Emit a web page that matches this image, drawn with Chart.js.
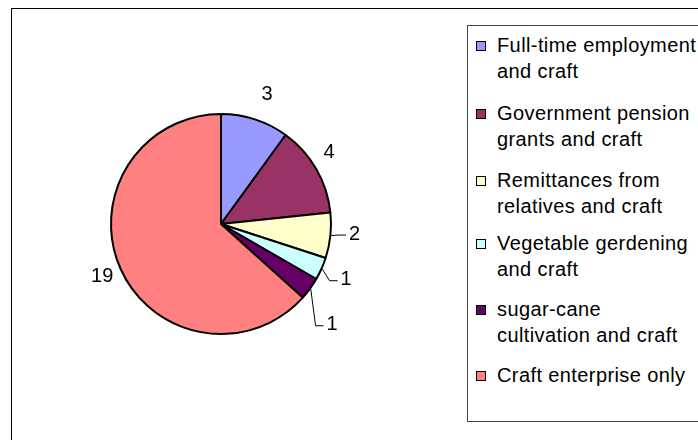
<!DOCTYPE html>
<html>
<head>
<meta charset="utf-8">
<script src="https://cdn.jsdelivr.net/npm/chart.js@4/dist/chart.umd.min.js"></script>
<style>
  html, body { margin:0; padding:0; background:#fff; }
  body { width:698px; height:440px; overflow:hidden; position:relative; font-family:"Liberation Sans", Arial, sans-serif; }
  #frame { position:absolute; left:11px; top:8px; width:800px; height:600px; border-left:1px solid #000; border-top:1px solid #000; box-sizing:border-box; }
  #wrap { position:absolute; left:0; top:0; width:460px; height:440px; }
  #legend { position:absolute; left:467px; top:25px; width:300px; height:397px; border:1px solid #444; box-sizing:border-box; background:#fff; }
  .item { position:absolute; left:0; }
  .mk { position:absolute; left:8px; width:10px; height:10px; border:1px solid #000; box-sizing:border-box; }
  .txt { position:absolute; left:29px; font-size:20px; line-height:26px; letter-spacing:0.4px; color:#000; white-space:nowrap; }
</style>
</head>
<body>
<div id="frame"></div>
<div id="wrap"><canvas id="c" width="460" height="440"></canvas></div>
<div id="legend"></div>
<script>
const categories = [
  ["Full-time employment", "and craft"],
  ["Government pension", "grants and craft"],
  ["Remittances from", "relatives and craft"],
  ["Vegetable gerdening", "and craft"],
  ["sugar-cane", "cultivation and craft"],
  ["Craft enterprise only"]
];
const values = [3, 4, 2, 1, 1, 19];
const colors = ["#9999FF", "#993366", "#FFFFCC", "#CCFFFF", "#660066", "#FF8080"];

// legend (HTML)
const legend = document.getElementById('legend');
const firstLineTop = [6, 74, 141, 204, 270, 336];
categories.forEach((lines, i) => {
  const it = document.createElement('div');
  it.className = 'item';
  it.style.top = firstLineTop[i] + 'px';
  const mk = document.createElement('div');
  mk.className = 'mk';
  mk.style.top = '9px';
  mk.style.background = colors[i];
  const tx = document.createElement('div');
  tx.className = 'txt';
  tx.style.top = '0px';
  tx.innerHTML = lines.map(s => s.replace(/&/g,'&amp;').replace(/</g,'&lt;')).join('<br>');
  it.appendChild(mk); it.appendChild(tx);
  legend.appendChild(it);
});

const labelPlugin = {
  id: 'sliceLabels',
  afterDatasetsDraw(chart, args, opts) {
    const ctx = chart.ctx;
    const meta = chart.getDatasetMeta(0);
    ctx.save();
    ctx.font = '20px "Liberation Sans", Arial, sans-serif';
    ctx.fillStyle = '#000';
    ctx.strokeStyle = '#000';
    ctx.lineWidth = 1;
    ctx.textAlign = 'center';
    ctx.textBaseline = 'middle';
    meta.data.forEach((arc, i) => {
      const p = arc.getProps(['x','y','startAngle','endAngle','outerRadius'], true);
      const mid0 = (p.startAngle + p.endAngle) / 2;
      const mid = mid0 + opts.angleAdj[i] * Math.PI / 180;
      const d = p.outerRadius + opts.gap[i];
      const lx = p.x + Math.cos(mid) * d;
      const ly = p.y + Math.sin(mid) * d;
      const txt = String(chart.data.datasets[0].data[i]);
      ctx.fillText(txt, lx, ly);
      if (opts.leader[i]) {
        const w = ctx.measureText(txt).width;
        const left = lx - w / 2;
        const sx = p.x + Math.cos(mid0) * (p.outerRadius + 1);
        const sy = p.y + Math.sin(mid0) * (p.outerRadius + 1);
        ctx.beginPath();
        ctx.moveTo(sx, sy);
        ctx.lineTo(left - 11, ly + 1);
        ctx.lineTo(left - 3, ly + 1);
        ctx.stroke();
      }
    });
    ctx.restore();
  }
};

new Chart(document.getElementById('c'), {
  type: 'pie',
  data: {
    labels: categories,
    datasets: [{
      data: values,
      backgroundColor: colors,
      borderColor: '#000',
      borderWidth: 2,
      radius: 110
    }]
  },
  options: {
    responsive: false,
    animation: false,
    layout: { padding: { left: 101, right: 119, top: 104, bottom: 96 } },
    plugins: {
      legend: { display: false },
      tooltip: { enabled: false },
      sliceLabels: {
        gap: [27, 19.5, 24, 27, 40, 20],
        angleAdj: [1.6, -3.5, -1.7, 0, 6.2, 0],
        leader: [false, false, true, true, true, false]
      }
    }
  },
  plugins: [labelPlugin]
});
</script>
</body>
</html>
